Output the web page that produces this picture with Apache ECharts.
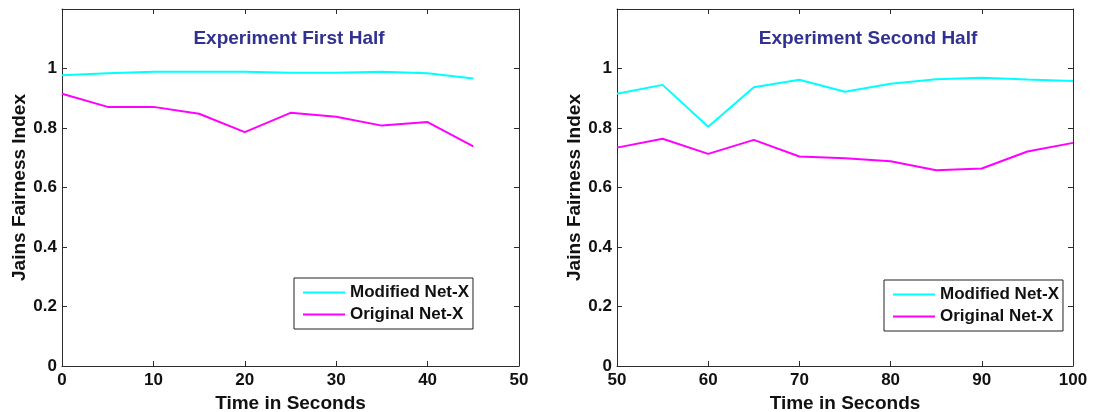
<!DOCTYPE html>
<html>
<head>
<meta charset="utf-8">
<script src="https://cdn.jsdelivr.net/npm/echarts@6/dist/echarts.min.js"></script>
<style>
  html, body { margin: 0; padding: 0; background: #fff; }
  #chart { width: 1097px; height: 412px; }
</style>
</head>
<body>
<div id="chart"></div>
<script>
// Jain's fairness index sampled every 5 seconds
const timeFirst = [0, 5, 10, 15, 20, 25, 30, 35, 40, 45];
const modifiedFirst = [0.977, 0.984, 0.989, 0.989, 0.989, 0.986, 0.986, 0.989, 0.984, 0.966];
const originalFirst = [0.915, 0.871, 0.871, 0.848, 0.786, 0.851, 0.838, 0.808, 0.820, 0.738];

const timeSecond = [50, 55, 60, 65, 70, 75, 80, 85, 90, 95, 100];
const modifiedSecond = [0.915, 0.945, 0.804, 0.937, 0.962, 0.922, 0.949, 0.964, 0.969, 0.963, 0.958];
const originalSecond = [0.734, 0.764, 0.713, 0.760, 0.704, 0.698, 0.688, 0.658, 0.664, 0.721, 0.750];

const seriesNames = ['Modified Net-X', 'Original Net-X'];
const titles = ['Experiment First Half', 'Experiment Second Half'];
const xRanges = [[0, 50], [50, 100]];

const FONT = '"Liberation Sans", Arial, sans-serif';
const AXIS_COLOR = '#2b2b2b';
const TEXT_COLOR = '#111';
const CYAN = '#00ffff';
const MAGENTA = '#ff00ff';

const grids = [
  { left: 62, right: 1097 - 519, top: 9, bottom: 412 - 366, outerBoundsMode: 'none', containLabel: false },
  { left: 617, right: 1097 - 1073, top: 9, bottom: 412 - 366, outerBoundsMode: 'none', containLabel: false }
];

function pairs(xs, ys) { return xs.map((x, i) => [x, ys[i]]); }

const tickStyle = { show: true, inside: true, length: 5, lineStyle: { color: AXIS_COLOR, width: 1 } };
const lineStyleAxis = { show: true, onZero: false, lineStyle: { color: AXIS_COLOR, width: 1 } };

const xAxes = [];
const yAxes = [];
grids.forEach((g, i) => {
  // bottom axis with labels
  xAxes.push({
    type: 'value', gridIndex: i, position: 'bottom',
    min: xRanges[i][0], max: xRanges[i][1], interval: 10,
    name: 'Time in Seconds', nameLocation: 'middle', nameGap: 25,
    nameTextStyle: { fontFamily: FONT, fontWeight: 'bold', fontSize: 19, color: TEXT_COLOR },
    axisLine: lineStyleAxis,
    axisTick: tickStyle,
    axisLabel: { margin: 6, fontFamily: FONT, fontWeight: 'bold', fontSize: 17, color: TEXT_COLOR },
    splitLine: { show: false }
  });
  // top frame edge with inward ticks
  xAxes.push({
    type: 'value', gridIndex: i, position: 'top',
    min: xRanges[i][0], max: xRanges[i][1], interval: 10,
    axisLine: lineStyleAxis,
    axisTick: tickStyle,
    axisLabel: { show: false },
    splitLine: { show: false }
  });
  // left axis with labels
  yAxes.push({
    type: 'value', gridIndex: i, position: 'left',
    min: 0, max: 1.2, interval: 0.2,
    name: 'Jains Fairness Index', nameLocation: 'middle', nameGap: 33,
    nameTextStyle: { fontFamily: FONT, fontWeight: 'bold', fontSize: 19, color: TEXT_COLOR },
    axisLine: lineStyleAxis,
    axisTick: tickStyle,
    axisLabel: {
      margin: 5, fontFamily: FONT, fontWeight: 'bold', fontSize: 17, color: TEXT_COLOR,
      showMaxLabel: false,
      formatter: v => (Math.round(v * 10) / 10).toString()
    },
    splitLine: { show: false }
  });
  // right frame edge with inward ticks
  yAxes.push({
    type: 'value', gridIndex: i, position: 'right',
    min: 0, max: 1.2, interval: 0.2,
    axisLine: lineStyleAxis,
    axisTick: tickStyle,
    axisLabel: { show: false },
    splitLine: { show: false }
  });
});

function lineSeries(name, color, gridIdx, xs, ys) {
  return {
    name: name, type: 'line',
    xAxisIndex: gridIdx * 2, yAxisIndex: gridIdx * 2,
    data: pairs(xs, ys),
    showSymbol: false, symbol: 'none',
    color: color,
    lineStyle: { color: color, width: 2 },
    animation: false
  };
}

const legendCommon = {
  orient: 'vertical',
  data: seriesNames,
  icon: 'rect',
  itemWidth: 42, itemHeight: 2,
  itemGap: 5,
  padding: [6, 4, 6, 9],
  backgroundColor: '#fff',
  borderColor: '#222', borderWidth: 1,
  textStyle: { fontFamily: FONT, fontWeight: 'bold', fontSize: 17, color: TEXT_COLOR, lineHeight: 17 },
  selectedMode: false
};

const option = {
  backgroundColor: '#fff',
  animation: false,
  title: titles.map((t, i) => ({
    text: t,
    left: i === 0 ? 289 : 868,
    top: 29,
    textAlign: 'center',
    padding: 0,
    textStyle: { fontFamily: FONT, fontWeight: 'bold', fontSize: 19, color: '#31318f' }
  })),
  grid: grids,
  xAxis: xAxes,
  yAxis: yAxes,
  legend: [
    Object.assign({}, legendCommon, { left: 294, top: 278 }),
    Object.assign({}, legendCommon, { left: 884, top: 280 })
  ],
  series: [
    lineSeries(seriesNames[0], CYAN, 0, timeFirst, modifiedFirst),
    lineSeries(seriesNames[1], MAGENTA, 0, timeFirst, originalFirst),
    lineSeries(seriesNames[0], CYAN, 1, timeSecond, modifiedSecond),
    lineSeries(seriesNames[1], MAGENTA, 1, timeSecond, originalSecond)
  ]
};

const chart = echarts.init(document.getElementById('chart'), null, { renderer: 'canvas' });
chart.setOption(option);
</script>
</body>
</html>
